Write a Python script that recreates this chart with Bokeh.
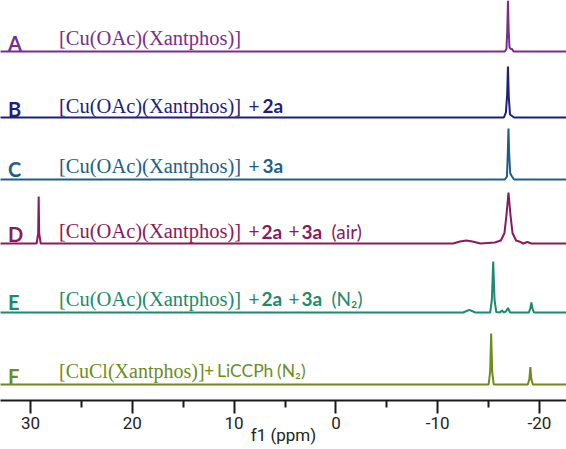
from bokeh.plotting import figure
from bokeh.models import Range1d, FixedTicker
from bokeh.core.properties import value
from bokeh.embed import file_html
from bokeh.resources import INLINE

# ---------------- data ----------------
trace_ids = ["A", "B", "C", "D", "E", "F"]
compounds = ["[Cu(OAc)(Xantphos)]", "[Cu(OAc)(Xantphos)]", "[Cu(OAc)(Xantphos)]",
             "[Cu(OAc)(Xantphos)]", "[Cu(OAc)(Xantphos)]", "[CuCl(Xantphos)]"]
additions = [
    [],
    [("+", "normal"), ("2a", "bold")],
    [("+", "normal"), ("3a", "bold")],
    [("+", "normal"), ("2a", "bold"), ("+", "normal"), ("3a", "bold"), ("(air)", "normal")],
    [("+", "normal"), ("2a", "bold"), ("+", "normal"), ("3a", "bold"), ("(N\u2082)", "normal")],
    [("+", "normal"), ("LiCCPh", "normal"), ("(N\u2082)", "normal")],
]

# 31P spectra: chemical shift (ppm) and relative intensity
a_ppm = [33.0, -16.6, -16.75, -16.83, -16.9, -16.97, -17.05, -17.2, -17.3, -17.45, -22.7]
a_int = [0, 0, 0.05, 0.4, 1.0, 0.4, 0.08, 0.05, 0.05, 0.0, 0]

b_ppm = [33.0, -16.5, -16.7, -16.82, -16.9, -16.98, -17.1, -17.3, -17.5, -22.7]
b_int = [0, 0, 0.1, 0.45, 1.0, 0.4, 0.06, 0.03, 0, 0]

c_ppm = [33.0, -16.6, -16.8, -16.88, -16.95, -17.02, -17.12, -17.3, -17.5, -22.7]
c_int = [0, 0, 0.06, 0.5, 1.0, 0.5, 0.12, 0.06, 0, 0]

d_ppm = [33.0, 29.4, 29.25, 29.2, 29.15, 29.0, -11.5, -12.2, -12.8, -13.4, -14.2, -15.6,
         -16.2, -16.55, -16.75, -16.95, -17.15, -17.35, -17.7, -18.0, -18.4, -18.8, -19.2, -22.7]
d_int = [0, 0, 0.2, 0.92, 0.2, 0, 0, 0.04, 0.06, 0.04, 0, 0.02,
         0.06, 0.2, 0.55, 1.0, 0.55, 0.2, 0.06, 0.04, 0.0, 0.03, 0, 0]

e_ppm = [33.0, -12.5, -13.1, -13.7, -15.15, -15.32, -15.45, -15.58, -15.75, -16.1, -16.3,
         -16.5, -16.7, -16.9, -17.1, -18.95, -19.1, -19.2, -19.3, -19.45, -22.7]
e_int = [0, 0, 0.05, 0, 0, 0.25, 1.0, 0.25, 0.01, 0, 0.04,
         0, 0.02, 0.09, 0, 0, 0.08, 0.2, 0.08, 0, 0]

f_ppm = [33.0, -15.0, -15.15, -15.25, -15.35, -15.5, -18.85, -19.0, -19.1, -19.2, -19.35, -22.7]
f_int = [0, 0, 0.25, 1.0, 0.25, 0, 0, 0.1, 0.34, 0.1, 0, 0]

spectra_ppm = [a_ppm, b_ppm, c_ppm, d_ppm, e_ppm, f_ppm]
spectra_int = [a_int, b_int, c_int, d_int, e_int, f_int]

major_ticks = [30, 20, 10, 0, -10, -20]
minor_ticks = [25, 15, 5, -5, -15]

# ---------------- layout / style ----------------
colors = ["#7B2D8E", "#1E1E7E", "#1E5E88", "#8A1A5C", "#1C8A6C", "#6C8C1E"]
PPM_LEFT, PPM_RIGHT = 32.95, -22.65
W, H, AXIS_Y = 566, 449, 400
baseline_px = [51, 117, 179, 243, 312, 384]
peak_scale = 51.0
letter_base_px = [42.7, 108.3, 168.3, 233.3, 301.7, 375.0]
text_base_px = [37.7, 105.0, 165.0, 230.7, 298.3, 370.3]
letter_x_px = 7.5
comp_x_px = 58.5
comp_size = ["20.5px", "20.5px", "20.5px", "20.5px", "20.5px", "20px"]
add_size = ["19px", "19px", "19px", "19px", "19px", "17.5px"]
add_x_px = [[], [248, 262], [248, 262], [248, 261, 288, 301, 331],
            [248, 261, 288, 301, 331], [203.5, 216.5, 276.5]]


def px_to_ppm(xp):
    return PPM_LEFT - xp * (PPM_LEFT - PPM_RIGHT) / W


def ry(yp):
    return AXIS_Y - yp


p = figure(width=W, height=H,
           x_range=Range1d(PPM_LEFT, PPM_RIGHT), y_range=Range1d(0, AXIS_Y),
           y_axis_type=None, output_backend="svg", toolbar_location=None,
           min_border=0, min_border_left=0, min_border_right=0, min_border_top=0,
           min_border_bottom=H - AXIS_Y)
p.xgrid.visible = False
p.outline_line_color = None
p.background_fill_color = "white"

for i in range(6):
    off = ry(baseline_px[i])
    ys = [off + v * peak_scale for v in spectra_int[i]]
    p.line(spectra_ppm[i], ys, line_color=colors[i], line_width=2)

    p.text(x=[px_to_ppm(letter_x_px)], y=[ry(letter_base_px[i])], text=[trace_ids[i]],
           text_font=value("Lato"), text_font_style="bold", text_font_size="20px",
           text_color=colors[i], text_baseline="alphabetic", text_align="left")
    p.text(x=[px_to_ppm(comp_x_px)], y=[ry(text_base_px[i])], text=[compounds[i]],
           text_font=value("Liberation Serif"), text_font_size=comp_size[i],
           text_color=colors[i], text_baseline="alphabetic", text_align="left")
    for (txt, style), xp in zip(additions[i], add_x_px[i]):
        p.text(x=[px_to_ppm(xp)], y=[ry(text_base_px[i])], text=[txt],
               text_font=value("Lato"), text_font_style=style, text_font_size=add_size[i],
               text_color=colors[i], text_baseline="alphabetic", text_align="left")

ax = p.xaxis[0]
ax.ticker = FixedTicker(ticks=major_ticks, minor_ticks=minor_ticks)
ax.major_label_overrides = {t: str(t) for t in major_ticks}
ax.axis_label = "f1 (ppm)"
ax.axis_label_text_font = "Roboto"
ax.axis_label_text_font_style = "normal"
ax.axis_label_text_font_size = "17px"
ax.axis_label_text_color = "#222222"
ax.axis_label_standoff = -7
ax.major_label_text_font = "Roboto"
ax.major_label_text_font_size = "17px"
ax.major_label_text_color = "#222222"
ax.major_label_standoff = 3
ax.axis_line_color = "#1a1a1a"
ax.axis_line_width = 2
ax.major_tick_line_color = "#1a1a1a"
ax.major_tick_line_width = 2
ax.major_tick_out = 13
ax.major_tick_in = 0
ax.minor_tick_line_color = "#1a1a1a"
ax.minor_tick_line_width = 2
ax.minor_tick_out = 7
ax.minor_tick_in = 0

open("out.html", "w").write(file_html(p, INLINE))
